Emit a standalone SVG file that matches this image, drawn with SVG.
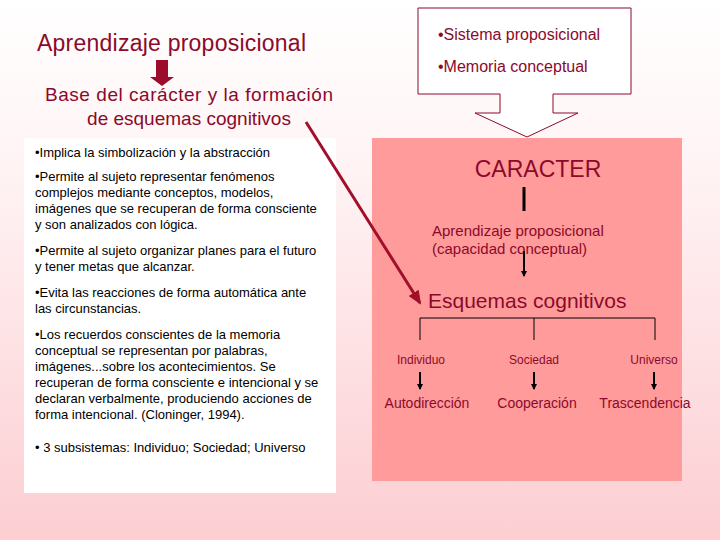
<svg xmlns="http://www.w3.org/2000/svg" width="720" height="540" viewBox="0 0 720 540">
<defs>
<linearGradient id="bg" x1="0" y1="0" x2="0" y2="1"><stop offset="0" stop-color="#ffffff"/><stop offset="0.3" stop-color="#fff4f5"/><stop offset="1" stop-color="#fcced2"/></linearGradient>
<marker id="ab" markerWidth="6" markerHeight="6" refX="5" refY="3" orient="auto" markerUnits="userSpaceOnUse"><path d="M0,0 L6,3 L0,6 z" fill="#000"/></marker>
<marker id="ar" markerWidth="14" markerHeight="12" refX="12" refY="6" orient="auto" markerUnits="userSpaceOnUse"><path d="M0,0 L14,6 L0,12 z" fill="#a0102a"/></marker>
<style>
.r{font-family:"Liberation Sans",Arial,sans-serif;fill:#8b0a2a}
.t{font-family:"Liberation Sans",Arial,sans-serif;font-size:13px;fill:#000}
.s{font-family:"Liberation Sans",Arial,sans-serif;font-size:12px;fill:#8b0a2a}
</style>
</defs>
<rect width="720" height="540" fill="url(#bg)"/>
<g id="title"><text x="37" y="51" class="r" font-size="23" textLength="269">Aprendizaje proposicional</text>
<path d="M156,60 h12 v17 h6 l-12,9 l-12,-9 h6 z" fill="#9b0d2a"/></g>
<g id="base"><text x="189" y="101" class="r" font-size="19" text-anchor="middle" textLength="288">Base del carácter  y la formación</text>
<text x="189" y="125" class="r" font-size="19" text-anchor="middle">de esquemas cognitivos</text></g>
<g id="listbox"><rect x="24" y="138" width="312" height="355" fill="#fff"/>
<g class="t"><text x="35" y="157">•Implica la simbolización y la abstracción</text>
<text x="35" y="181">•Permite al sujeto representar fenómenos</text>
<text x="35" y="197">complejos mediante  conceptos, modelos,</text>
<text x="35" y="213">imágenes que se recuperan de forma consciente</text>
<text x="35" y="229">y son analizados con lógica.</text>
<text x="35" y="255">•Permite al sujeto organizar planes para el futuro</text>
<text x="35" y="271">y tener metas que alcanzar.</text>
<text x="35" y="297">•Evita las reacciones de forma automática ante</text>
<text x="35" y="313">las circunstancias.</text>
<text x="35" y="339">•Los recuerdos conscientes de la memoria</text>
<text x="35" y="355">conceptual se representan por palabras,</text>
<text x="35" y="371">imágenes...sobre los acontecimientos. Se</text>
<text x="35" y="387">recuperan de forma consciente e intencional y se</text>
<text x="35" y="403">declaran verbalmente, produciendo acciones de</text>
<text x="35" y="419">forma intencional. (Cloninger, 1994).</text>
<text x="35" y="452">• 3 subsistemas: Individuo; Sociedad; Universo</text></g></g>
<g id="callout"><path d="M418,8 H631 V94 H553 V113 H578 L527,137 L475,113 H500 V94 H418 z" fill="#fff" stroke="#8b0a2a" stroke-width="1"/>
<text x="438" y="40" class="r" font-size="16">•Sistema proposicional</text>
<text x="438" y="72" class="r" font-size="16">•Memoria conceptual</text></g>
<g id="caracter"><rect x="372" y="138" width="310" height="343" fill="#ff9b9b"/>
<text x="538" y="177" class="r" font-size="23" text-anchor="middle">CARACTER</text>
<text x="432" y="236" class="r" font-size="15">Aprendizaje proposicional</text>
<text x="432" y="254" class="r" font-size="15">(capacidad conceptual)</text>
<text x="428" y="308" class="r" font-size="21">Esquemas cognitivos</text>
<text x="421" y="364" class="s" text-anchor="middle">Individuo</text>
<text x="534" y="364" class="s" text-anchor="middle">Sociedad</text>
<text x="654" y="364" class="s" text-anchor="middle">Universo</text>
<text x="427" y="408" class="r" font-size="14" text-anchor="middle">Autodirección</text>
<text x="537" y="408" class="r" font-size="14" text-anchor="middle">Cooperación</text>
<text x="645" y="408" class="r" font-size="14" text-anchor="middle">Trascendencia</text></g>
<g id="connectors" stroke="#000" fill="none">
<line x1="524" y1="187" x2="524" y2="211" stroke-width="3"/>
<line x1="524" y1="251" x2="524" y2="276" stroke-width="2" marker-end="url(#ab)"/>
<path d="M420,340 V318 H655 V340 M534,318 V340" stroke-width="1"/>
<line x1="420" y1="372" x2="420" y2="389" stroke-width="2" marker-end="url(#ab)"/>
<line x1="534" y1="372" x2="534" y2="389" stroke-width="2" marker-end="url(#ab)"/>
<line x1="654" y1="372" x2="654" y2="389" stroke-width="2" marker-end="url(#ab)"/>
<line x1="306" y1="122" x2="420" y2="303" stroke="#a0102a" stroke-width="3" marker-end="url(#ar)"/>
</g>
</svg>
